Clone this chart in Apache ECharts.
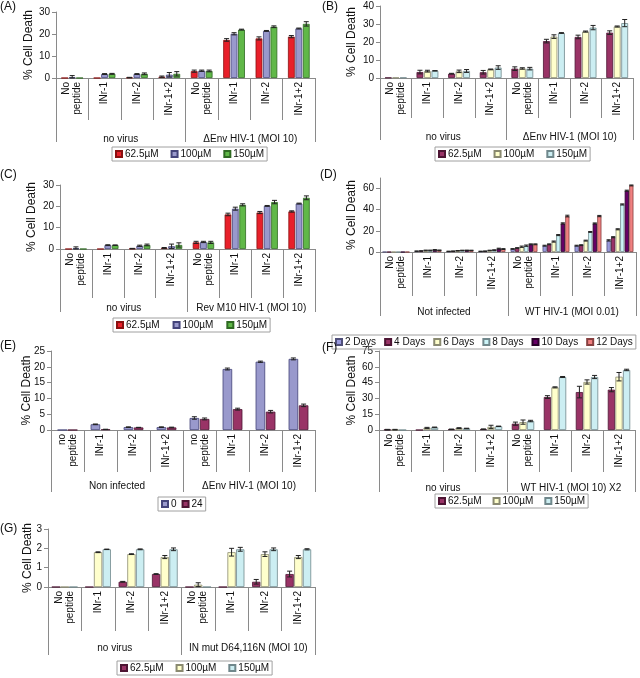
<!DOCTYPE html>
<html>
<head>
<meta charset="utf-8">
<script src="https://cdn.jsdelivr.net/npm/echarts@6/dist/echarts.min.js"></script>
<style>
html, body { margin: 0; padding: 0; background: #fff; }
#chart { width: 640px; height: 678px; }
</style>
</head>
<body>
<div id="chart"></div>
<script>
// categories shared by every panel
const categories = ['No\npeptide', 'INr-1', 'INr-2', 'INr-1+2', 'No\npeptide', 'INr-1', 'INr-2', 'INr-1+2'];
const categoriesLower = ['no\npeptide', 'INr-1', 'INr-2', 'INr-1+2', 'no\npeptide', 'INr-1', 'INr-2', 'INr-1+2'];
const doses = ['62.5µM', '100µM', '150µM'];
const days = ['2 Days', '4 Days', '6 Days', '8 Days', '10 Days', '12 Days'];
const hours = ['0', '24'];

const groupsA = ['no virus', 'ΔEnv HIV-1 (MOI 10)'];
const groupsB = ['no virus', 'ΔEnv HIV-1 (MOI 10)'];
const groupsC = ['no virus', 'Rev M10 HIV-1 (MOI 10)'];
const groupsD = ['Not infected', 'WT HIV-1 (MOI 0.01)'];
const groupsE = ['Non infected', 'ΔEnv HIV-1 (MOI 10)'];
const groupsF = ['no virus', 'WT HIV-1 (MOI 10) X2'];
const groupsG = ['no virus', 'IN mut D64,116N (MOI 10)'];

// values: one row per series, one column per category
const valuesA = [
    [0, 0, 0.2, 0.6, 3.1, 17.3, 18.0, 18.8],
    [0.3, 1.8, 1.8, 1.5, 3.3, 20.1, 21.4, 22.5],
    [0, 1.9, 1.9, 1.9, 3.2, 22.0, 23.3, 24.6]
];
const errorsA = [
    [0, 0, 0.1, 0.3, 0.5, 0.6, 0.7, 0.5],
    [0.8, 0.2, 0.2, 1.0, 0.3, 0.5, 0.2, 0.2],
    [0, 0.2, 0.4, 1.0, 0.4, 0.2, 0.4, 1.0]
];
const valuesB = [
    [0.2, 3.3, 2.4, 3.2, 5.2, 20.5, 22.8, 25.2],
    [0.2, 3.8, 3.7, 4.8, 5.3, 23.0, 25.8, 28.6],
    [0.2, 4.0, 3.9, 5.8, 5.2, 25.0, 28.0, 30.5]
];
const errorsB = [
    [0, 1.0, 0.2, 1.0, 1.0, 1.0, 1.0, 1.0],
    [0, 0.5, 0.7, 0.2, 0.4, 1.0, 0.3, 0.3],
    [0, 0.1, 0.8, 1.0, 0.7, 0.2, 1.2, 2.0]
];
const valuesC = [
    [0, 0, 0.2, 0.5, 3.1, 16.2, 17.1, 17.6],
    [0.3, 1.8, 1.5, 1.3, 3.3, 18.9, 20.2, 21.3],
    [0, 1.8, 1.9, 1.9, 3.1, 20.7, 22.0, 24.0]
];
const errorsC = [
    [0, 0, 0.1, 0.2, 0.5, 0.6, 0.5, 0.3],
    [0.7, 0.2, 0.3, 1.0, 0.3, 0.7, 0.2, 0.2],
    [0, 0.1, 0.4, 1.0, 0.5, 0.5, 0.8, 0.9]
];
const valuesD = [
    [0, 0.8, 0.6, 0.6, 2.9, 6.0, 6.0, 11.0],
    [0, 1.0, 0.8, 0.8, 3.8, 7.3, 6.5, 14.0],
    [0, 1.5, 1.2, 1.5, 5.0, 9.9, 10.8, 21.5],
    [0, 1.5, 1.5, 1.8, 6.0, 16.0, 19.0, 45.0],
    [0, 2.0, 1.6, 3.2, 7.3, 27.0, 27.0, 58.0],
    [0, 1.6, 1.5, 2.8, 7.3, 34.0, 34.0, 63.0]
];
const errorsD = [
    [0, 0.2, 0.2, 0.2, 0.3, 0.4, 0.4, 0.6],
    [0, 0.2, 0.2, 0.2, 0.3, 0.4, 0.4, 0.5],
    [0, 0.3, 0.2, 0.2, 0.6, 0.5, 0.4, 0.5],
    [0, 0.3, 0.2, 0.3, 0.6, 0.5, 0.4, 0.5],
    [0, 0.3, 0.2, 0.4, 0.4, 0.6, 0.5, 0.5],
    [0, 0.3, 0.2, 0.4, 0.4, 0.8, 0.6, 0.4]
];
const valuesE = [
    [0, 1.8, 0.9, 0.9, 3.8, 19.3, 21.6, 22.5],
    [0, 0.2, 0.8, 0.8, 3.5, 6.6, 5.8, 7.8]
];
const errorsE = [
    [0, 0.1, 0.1, 0.1, 0.4, 0.3, 0.2, 0.3],
    [0, 0.05, 0.05, 0.1, 0.3, 0.3, 0.4, 0.4]
];
const valuesF = [
    [0.3, 0, 0.7, 0.8, 6.0, 31.3, 36.0, 38.3],
    [0.3, 2.0, 1.8, 3.0, 7.5, 40.5, 45.6, 50.6],
    [0, 2.5, 1.5, 3.5, 8.5, 50.3, 50.3, 57.0]
];
const errorsF = [
    [0.3, 0, 0.2, 0.2, 1.5, 1.3, 5.5, 2.0],
    [0.3, 0.5, 0.4, 1.5, 2.0, 0.5, 2.0, 4.0],
    [0, 0.3, 0.2, 0.2, 0.7, 0.5, 1.5, 0.7]
];
const valuesG = [
    [0, 0, 0.27, 0.67, 0, 0, 0.27, 0.67],
    [0, 1.8, 1.7, 1.55, 0.12, 1.8, 1.7, 1.55],
    [0, 1.95, 1.95, 1.95, 0, 1.95, 1.95, 1.95]
];
const errorsG = [
    [0, 0, 0.02, 0.02, 0, 0, 0.12, 0.15],
    [0, 0.02, 0.02, 0.08, 0.1, 0.2, 0.12, 0.08],
    [0, 0.01, 0.02, 0.07, 0, 0.1, 0.07, 0.03]
];

// colours (fill / outline)
const redGreen = ['#e8202a', '#9999cc', '#60b848'];
const redGreenLine = ['#8a1010', '#44447a', '#2f6a22'];
const maroonCyan = ['#993366', '#ffffcc', '#cceef2'];
const maroonCyanLine = ['#4d1533', '#8a8a70', '#70888c'];
const dayColors = ['#9999dd', '#993366', '#ffffcc', '#ccf4f8', '#660066', '#f08080'];
const dayLines = ['#50507a', '#4d1533', '#8a8a70', '#70888c', '#2a002a', '#884040'];

const FONT = '"Liberation Sans", Arial, sans-serif';
const TXT = '#111';
const AXIS = '#8a8a8a';

const panels = [
    { id: 'A', names: doses, colors: redGreen, lines: redGreenLine, values: valuesA, errors: errorsA, groups: groupsA, cats: categories,
      max: 30, interval: 10, grid: { left: 56, top: 12, width: 259, height: 66 }, tick: 42, groupTick: 64, groupMargin: 56, nameGap: 21,
      catGap: '33%', barGap: '10%', legend: { left: 112, top: 147, gap: 12 }, letter: [0, 1] },
    { id: 'B', names: doses, colors: maroonCyan, lines: maroonCyanLine, values: valuesB, errors: errorsB, groups: groupsB, cats: categories,
      max: 40, interval: 10, grid: { left: 380, top: 6, width: 253, height: 72 }, tick: 40, groupTick: 62, groupMargin: 54, nameGap: 22,
      catGap: '31%', barGap: '10%', legend: { left: 435, top: 147, gap: 12 }, letter: [322, 1] },
    { id: 'C', names: doses, colors: redGreen, lines: redGreenLine, values: valuesC, errors: errorsC, groups: groupsC, cats: categories,
      max: 30, interval: 10, grid: { left: 60, top: 185, width: 255, height: 64 }, tick: 49, groupTick: 63, groupMargin: 54, nameGap: 22,
      catGap: '33%', barGap: '10%', legend: { left: 113, top: 318, gap: 13 }, letter: [0, 169] },
    { id: 'D', names: days, colors: dayColors, lines: dayLines, values: valuesD, errors: errorsD, groups: groupsD, cats: categories,
      max: 70, interval: 20, grid: { left: 380, top: 178, width: 256, height: 74 }, tick: 44, groupTick: 64, groupMargin: 55, nameGap: 22,
      catGap: '16%', barGap: '8%', legend: { left: 332, top: 335, gap: 8 }, letter: [320, 169] },
    { id: 'E', names: hours, colors: ['#9999cc', '#993366'], lines: ['#44447a', '#4d1533'], values: valuesE, errors: errorsE, groups: groupsE, cats: categoriesLower,
      max: 25, interval: 5, grid: { left: 51, top: 351, width: 264, height: 79 }, tick: 42, groupTick: 62, groupMargin: 51, nameGap: 18,
      catGap: '40%', barGap: '7%', legend: { left: 158, top: 497, gap: 5 }, letter: [0, 340] },
    { id: 'F', names: doses, colors: maroonCyan, lines: maroonCyanLine, values: valuesF, errors: errorsF, groups: groupsF, cats: categories,
      max: 75, interval: 15, grid: { left: 379, top: 351, width: 256, height: 79 }, tick: 42, groupTick: 62, groupMargin: 53, nameGap: 21,
      catGap: '30%', barGap: '5%', legend: { left: 435, top: 494, gap: 11 }, letter: [322, 342] },
    { id: 'G', names: doses, colors: maroonCyan, lines: maroonCyanLine, values: valuesG, errors: errorsG, groups: groupsG, cats: categories,
      max: 3, interval: 1, grid: { left: 48, top: 529, width: 267, height: 58 }, tick: 44, groupTick: 68, groupMargin: 56, nameGap: 14,
      catGap: '23%', barGap: '5%', legend: { left: 117, top: 661, gap: 12 }, letter: [0, 523] }
];

function errorRenderer(n, catGap, barGap) {
    const cg = parseFloat(catGap) / 100, bg = parseFloat(barGap) / 100;
    return function (params, api) {
        const ci = api.value(0), v = api.value(1), e = api.value(2), si = api.value(3);
        const band = api.size([1, 0])[0] * (1 - cg);
        const bw = band / (n + (n - 1) * bg);
        const off = -band / 2 + bw / 2 + si * bw * (1 + bg);
        const hi = api.coord([ci, v + e]);
        const lo = api.coord([ci, Math.max(0, v - e)]);
        const x = hi[0] + off, cap = Math.min(2.5, bw / 2);
        const style = { stroke: '#222', lineWidth: 1 };
        return {
            type: 'group',
            children: [
                { type: 'line', shape: { x1: x, y1: hi[1], x2: x, y2: lo[1] }, style },
                { type: 'line', shape: { x1: x - cap, y1: hi[1], x2: x + cap, y2: hi[1] }, style },
                { type: 'line', shape: { x1: x - cap, y1: lo[1], x2: x + cap, y2: lo[1] }, style }
            ]
        };
    };
}

const option = {
    animation: false,
    textStyle: { fontFamily: FONT, color: TXT },
    title: [], grid: [], xAxis: [], yAxis: [], legend: [], series: []
};

panels.forEach((p, i) => {
    const g = 2 * i;
    option.title.push({ text: '(' + p.id + ')', left: p.letter[0], top: p.letter[1], padding: 0,
        textStyle: { fontSize: 12, fontWeight: 'normal', color: TXT, fontFamily: FONT } });

    const rect = Object.assign({ containLabel: false, outerBoundsMode: 'none' }, p.grid);
    option.grid.push(Object.assign({}, rect), Object.assign({}, rect));

    option.xAxis.push({
        gridIndex: g, type: 'category', data: p.cats,
        axisLine: { show: true, lineStyle: { color: AXIS, width: 1 } },
        axisTick: { show: true, interval: 0, length: p.tick, lineStyle: { color: AXIS } },
        axisLabel: { interval: 0, rotate: 90, margin: 4, fontSize: 10, lineHeight: 11, color: TXT, fontFamily: FONT }
    }, {
        gridIndex: g + 1, type: 'category', data: p.groups,
        axisLine: { show: true, lineStyle: { color: AXIS, width: 1 } },
        axisTick: { show: true, interval: 0, length: p.groupTick, lineStyle: { color: AXIS } },
        axisLabel: { interval: 0, margin: p.groupMargin, fontSize: 10, color: TXT, fontFamily: FONT }
    });

    const ticks = [];
    for (let t = 0; t <= p.max; t += p.interval) ticks.push(t);
    option.yAxis.push({
        gridIndex: g, type: 'value', min: 0, max: p.max, interval: p.interval,
        name: '% Cell Death', nameLocation: 'middle', nameGap: p.nameGap, nameMoveOverlap: false,
        nameTextStyle: { fontSize: 12, color: TXT, fontFamily: FONT },
        axisLine: { show: true, lineStyle: { color: AXIS, width: 1 } },
        axisTick: { show: true, length: 4, lineStyle: { color: AXIS }, customValues: ticks },
        axisLabel: { fontSize: 10, margin: 6, color: TXT, fontFamily: FONT, customValues: ticks, hideOverlap: false },
        splitLine: { show: false }
    }, {
        gridIndex: g + 1, type: 'value', min: 0, max: 1, show: false
    });

    const legendNames = p.names.map(n => p.id + '|' + n);
    option.legend.push({
        left: p.legend.left, top: p.legend.top, data: legendNames, orient: 'horizontal',
        formatter: n => n.split('|')[1], selectedMode: false,
        icon: 'rect', itemWidth: 6, itemHeight: 6, itemGap: p.legend.gap,
        borderColor: '#a0a0a0', borderWidth: 1, padding: [2, 3],
        textStyle: { fontSize: 10, color: TXT, fontFamily: FONT, padding: [0, 0, 0, -2] }
    });

    p.names.forEach((n, si) => {
        option.series.push({
            name: p.id + '|' + n, type: 'bar', xAxisIndex: g, yAxisIndex: g,
            data: p.values[si], barGap: p.barGap, barCategoryGap: p.catGap,
            itemStyle: { color: p.colors[si], borderColor: p.lines[si], borderWidth: 0.8 }
        });
    });

    const errData = [];
    p.errors.forEach((row, si) => row.forEach((e, ci) => {
        if (e > 0) errData.push([ci, p.values[si][ci], e, si]);
    }));
    option.series.push({
        type: 'custom', xAxisIndex: g, yAxisIndex: g, z: 5,
        renderItem: errorRenderer(p.names.length, p.catGap, p.barGap),
        encode: { x: 0, y: 1 }, data: errData, silent: true
    });
});

const chart = echarts.init(document.getElementById('chart'));
chart.setOption(option);
</script>
</body>
</html>
